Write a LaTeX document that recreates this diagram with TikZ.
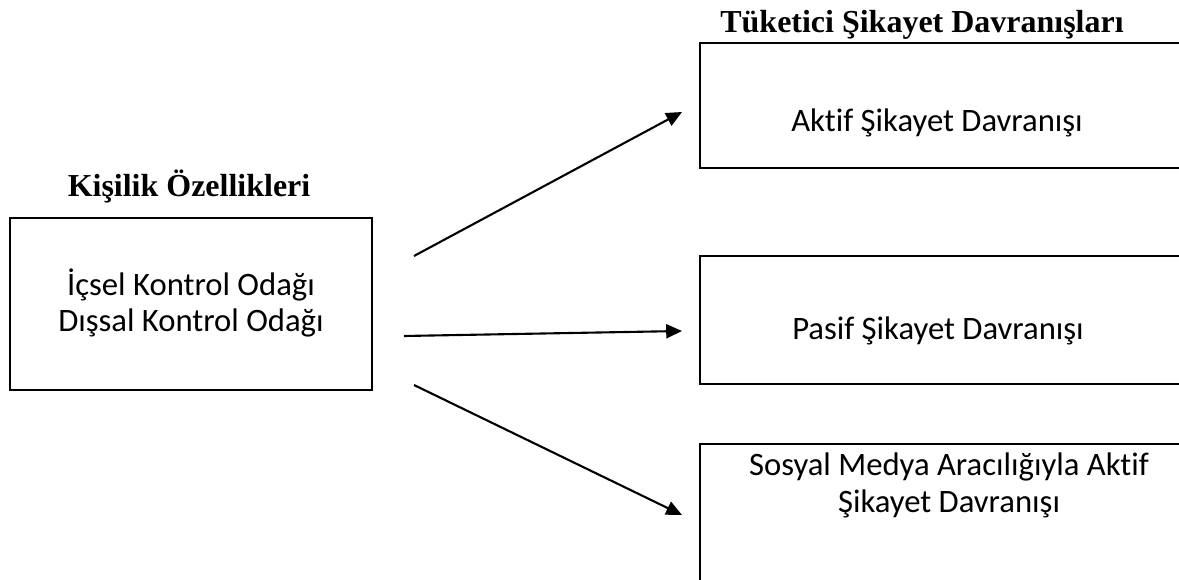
\documentclass[tikz,border=0pt]{standalone}
\usepackage{fontspec}
\setmainfont{Carlito}[Ligatures={NoCommon,NoRare}]
\newfontfamily\baslikfont{Liberation Serif}
\usetikzlibrary{arrows.meta}

\tikzset{
  kutu/.style={draw, line width=1.3pt, inner sep=0pt},
  ok/.style={line width=1.2pt, -{Triangle[length=9pt,width=8pt]}},
  yazi/.style={font=\fontsize{18.6}{21}\selectfont, align=center, inner sep=0pt},
  baslik/.style={font=\baslikfont\bfseries\fontsize{18.2}{21}\selectfont, inner sep=0pt}
}

\begin{document}
\begin{tikzpicture}[x=0.02cm, y=-0.02cm]

\useasboundingbox (0,0) rectangle (1179,580);
\clip (0,0) rectangle (1179,580);

% Kişilik Özellikleri
\node[baslik, anchor=base] (kisilik) at (189,197) {Kişilik Özellikleri};

\node[kutu, minimum width=7.24cm, minimum height=3.44cm] (odak) at (191,304) {};

\node[yazi] (odakyazi) at (191,303)
{İçsel Kontrol Odağı\\Dışsal Kontrol Odağı};

% Tüketici Şikayet Davranışları
\node[baslik, anchor=base] (tuketici) at (922,33) {Tüketici Şikayet Davranışları};

\node[kutu, minimum width=9.8cm, minimum height=2.5cm] (aktif) at (945,105.5) {};
\node[yazi, anchor=base] (aktifyazi) at (937,132) {Aktif Şikayet Davranışı};

\node[kutu, minimum width=9.8cm, minimum height=2.56cm] (pasif) at (945,320) {};
\node[yazi, anchor=base] (pasifyazi) at (938,340) {Pasif Şikayet Davranışı};

\node[kutu, minimum width=9.8cm, minimum height=3.2cm] (sosyal) at (945,524) {};
\node[yazi] (sosyalyazi) at (949,485)
{Sosyal Medya Aracılığıyla Aktif\\Şikayet Davranışı};

% oklar
\coordinate (b1) at (414,256);
\coordinate (b2) at (404,336);
\coordinate (b3) at (414,385);

\coordinate (s1) at (682,112);
\coordinate (s2) at (682,331);
\coordinate (s3) at (682,515);

\draw[ok] (b1) -- (s1);
\draw[ok] (b2) -- (s2);
\draw[ok] (b3) -- (s3);

\end{tikzpicture}
\end{document}
